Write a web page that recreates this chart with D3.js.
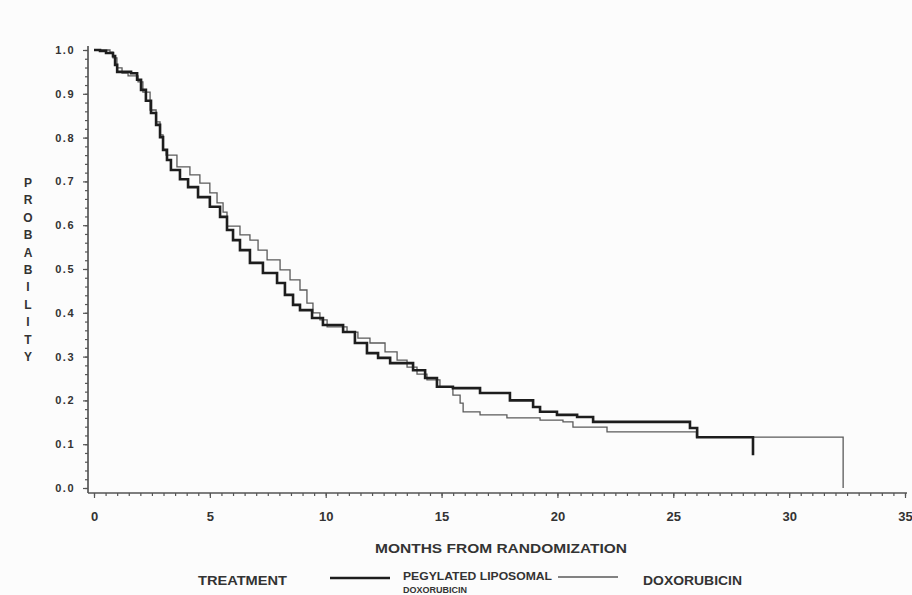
<!DOCTYPE html>
<html lang="en">
<head>
    <meta charset="UTF-8">
    <title>Kaplan-Meier</title>
    <script src="https://cdn.jsdelivr.net/npm/d3@7"></script>
    <style>
        body { margin: 0; background: #fcfcfc; }
        svg text { font-family: "Liberation Sans", Arial, sans-serif; font-weight: bold; fill: #333; }
        .axis path, .axis line { stroke: #555; stroke-width: 1.2; }
        .pld { fill: none; stroke: #1d1d1d; stroke-width: 2.6; }
        .dox { fill: none; stroke: #5a5a5a; stroke-width: 1.3; }
    </style>
</head>
<body>
    <svg id="chart" width="912" height="595"></svg>
    <script>
    "use strict";

    // values
    var pldMonths = [0, 0.26, 0.52, 0.82, 0.91, 1.0, 1.6, 1.86, 2.03, 2.24, 2.46, 2.68, 2.85, 2.98, 3.15, 3.32,
        3.71, 4.06, 4.49, 5.0, 5.44, 5.74, 6.0, 6.3, 6.73, 7.29, 7.9, 8.24, 8.59, 8.89, 9.41, 9.88, 10.75,
        11.26, 11.78, 12.26, 12.78, 13.77, 14.29, 14.8, 15.49, 16.66, 17.95, 18.95, 19.25, 19.98, 20.85,
        21.54, 25.72, 26.03, 28.44];
    var pldSurv = [1.0, 0.998, 0.993, 0.986, 0.966, 0.95, 0.947, 0.932, 0.909, 0.884, 0.856, 0.829, 0.801, 0.772, 0.749, 0.726,
        0.705, 0.687, 0.664, 0.642, 0.619, 0.589, 0.566, 0.543, 0.514, 0.491, 0.468, 0.441, 0.418, 0.406, 0.388, 0.372, 0.356,
        0.331, 0.308, 0.297, 0.285, 0.269, 0.251, 0.231, 0.228, 0.217, 0.2, 0.185, 0.174, 0.167, 0.162,
        0.151, 0.137, 0.116, 0.075];

    var doxMonths = [0, 0.26, 0.69, 0.82, 0.99, 1.21, 1.47, 1.9, 2.11, 2.42, 2.68, 2.85, 2.98, 3.11, 3.58, 4.14,
        4.57, 5.0, 5.31, 5.57, 5.74, 6.3, 6.73, 7.08, 7.47, 8.03, 8.46, 8.89, 9.19, 9.45, 9.75, 10.06, 10.92,
        11.39, 11.91, 12.56, 13.08, 13.51, 13.94, 14.37, 14.93, 15.49, 15.8, 15.93, 16.66, 17.82, 19.25,
        20.24, 20.67, 22.14, 26.0, 32.33];
    var doxSurv = [1.0, 1.0, 0.995, 0.982, 0.959, 0.947, 0.941, 0.927, 0.904, 0.863, 0.836, 0.806, 0.772, 0.76, 0.733, 0.715,
        0.696, 0.674, 0.651, 0.63, 0.598, 0.578, 0.566, 0.543, 0.521, 0.498, 0.475, 0.452, 0.422, 0.4, 0.384, 0.368, 0.356,
        0.342, 0.331, 0.311, 0.292, 0.276, 0.26, 0.247, 0.231, 0.212, 0.194, 0.174, 0.167, 0.16, 0.155,
        0.151, 0.139, 0.128, 0.116, 0.0];

    var xTicks = [0, 5, 10, 15, 20, 25, 30, 35];
    var yTicks = [0.0, 0.1, 0.2, 0.3, 0.4, 0.5, 0.6, 0.7, 0.8, 0.9, 1.0];
    var yTitle = "PROBABILITY";
    var xTitle = "MONTHS FROM RANDOMIZATION";
    var legendTitle = "TREATMENT";
    var seriesNames = ["PEGYLATED LIPOSOMAL DOXORUBICIN", "DOXORUBICIN"];

    var svg = d3.select('#chart');

    var x = d3.scaleLinear().domain([0, 35]).range([94, 905]);
    var y = d3.scaleLinear().domain([0, 1]).range([488, 50]);
    var axisY = 493, axisX = 88;

    // x axis: minor ticks, then major ticks + labels
    var gx = svg.append('g').attr('class', 'axis').attr('transform', 'translate(0,' + axisY + ')');
    gx.call(d3.axisBottom(x).tickValues(d3.range(0, 35.01, 0.5)).tickSize(3).tickFormat(''));
    gx.append('g').call(d3.axisBottom(x).tickValues(xTicks).tickSize(5).tickPadding(14).tickFormat(d3.format('d')))
        .selectAll('text').style('font-size', '13px').attr('fill', '#333');
    gx.selectAll('.domain').attr('d', 'M' + axisX + ',0H907');

    // y axis
    var gy = svg.append('g').attr('class', 'axis').attr('transform', 'translate(' + axisX + ',0)');
    gy.call(d3.axisLeft(y).tickValues(d3.range(0, 1.001, 0.02)).tickSize(3).tickFormat(''));
    gy.append('g').call(d3.axisLeft(y).tickValues(yTicks).tickSize(5).tickPadding(8).tickFormat(d3.format('.1f')))
        .selectAll('text').style('font-size', '11px').style('letter-spacing', '1.5px').attr('fill', '#333');
    gy.selectAll('.domain').attr('d', 'M0,' + axisY + 'V46');

    // curves
    var line = d3.line()
        .x(function(d) { return x(d[0]); })
        .y(function(d) { return y(d[1]); })
        .curve(d3.curveStepAfter);

    svg.append('path').attr('class', 'dox')
        .attr('d', line(d3.zip(doxMonths, doxSurv)));
    svg.append('path').attr('class', 'pld')
        .attr('d', line(d3.zip(pldMonths, pldSurv)));

    // y title, one letter per row
    svg.append('g').selectAll('text').data(yTitle.split('')).enter().append('text')
        .attr('x', 28)
        .attr('y', function(d, i) { return 183 + i * 17.4; })
        .attr('text-anchor', 'middle')
        .attr('dominant-baseline', 'central')
        .style('font-size', '12px')
        .text(function(d) { return d; });

    svg.append('text')
        .attr('x', 501).attr('y', 553)
        .attr('text-anchor', 'middle')
        .attr('textLength', 252).attr('lengthAdjust', 'spacingAndGlyphs')
        .style('font-size', '13px')
        .text(xTitle);

    // legend
    svg.append('text').attr('x', 198).attr('y', 585)
        .attr('textLength', 89).attr('lengthAdjust', 'spacingAndGlyphs')
        .style('font-size', '13px').text(legendTitle);

    svg.append('line').attr('class', 'pld').attr('x1', 330).attr('x2', 390).attr('y1', 578).attr('y2', 578);
    var words = seriesNames[0].split(' ');
    svg.append('text').attr('x', 403).attr('y', 580)
        .attr('textLength', 149).attr('lengthAdjust', 'spacingAndGlyphs')
        .style('font-size', '10px').text(words.slice(0, 2).join(' '));
    svg.append('text').attr('x', 403).attr('y', 593)
        .style('font-size', '9px').text(words[2]);

    svg.append('line').attr('class', 'dox').attr('x1', 558).attr('x2', 618).attr('y1', 577).attr('y2', 577);
    svg.append('text').attr('x', 643).attr('y', 585)
        .attr('textLength', 99).attr('lengthAdjust', 'spacingAndGlyphs')
        .style('font-size', '13px').text(seriesNames[1]);
    </script>
</body>
</html>
